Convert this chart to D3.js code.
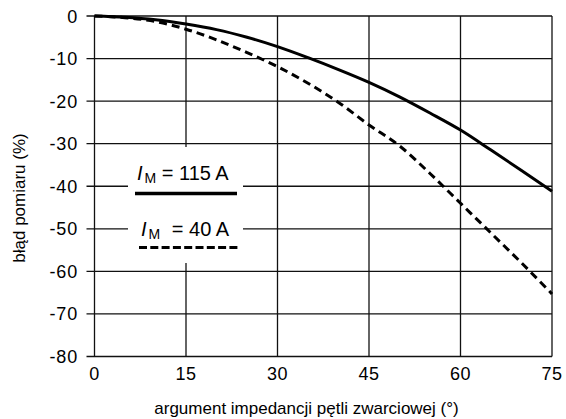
<!DOCTYPE html>
<html>
<head>
<meta charset="utf-8">
<script src="https://cdn.jsdelivr.net/npm/d3@7"></script>
<style>
  body { margin: 0; background: #fff; }
  svg text { font-family: "Liberation Sans", Arial, sans-serif; fill: #000; }
</style>
</head>
<body>
<main></main>
<script>
const angles = [0, 5, 10, 15, 20, 25, 30, 35, 40, 45, 50, 55, 60, 65, 70, 75]
const err115 = [0, -0.3, -0.9, -1.9, -3.2, -5, -7.2, -9.8, -12.6, -15.6, -19, -22.8, -26.8, -31.5, -36.3, -41.2]
const err40 = [0, -0.4, -1.3, -3.1, -5.6, -8.6, -11.9, -15.8, -20.3, -25.6, -30.5, -37, -44, -51, -58, -65.3]
const xTicks = [0, 15, 30, 45, 60, 75]
const yTicks = [0, -10, -20, -30, -40, -50, -60, -70, -80]

const w = 566
const h = 419
const padLeft = 94.5
const padRight = 552
const padTop = 16
const padBottom = 356.5

const xScale = d3.scaleLinear().domain([0, 75]).range([padLeft, padRight])
const yScale = d3.scaleLinear().domain([0, -80]).range([padTop, padBottom])

const svg = d3.select("main").append("svg").attr("width", w).attr("height", h)

// grid
svg.append("g")
  .selectAll("line")
  .data(yTicks)
  .enter()
  .append("line")
  .attr("x1", padLeft - 8)
  .attr("x2", padRight)
  .attr("y1", (d) => yScale(d))
  .attr("y2", (d) => yScale(d))
  .attr("stroke", "#111")
  .attr("stroke-width", 1.3)

svg.append("g")
  .selectAll("line")
  .data(xTicks)
  .enter()
  .append("line")
  .attr("x1", (d) => xScale(d))
  .attr("x2", (d) => xScale(d))
  .attr("y1", padTop)
  .attr("y2", padBottom)
  .attr("stroke", "#111")
  .attr("stroke-width", 1.3)

// legend box (covers grid)
svg.append("rect")
  .attr("x", 128).attr("y", 147)
  .attr("width", 115).attr("height", 116)
  .attr("fill", "#fff")

// tick labels
svg.append("g")
  .selectAll("text")
  .data(yTicks)
  .enter()
  .append("text")
  .attr("x", 78)
  .attr("y", (d) => yScale(d) + 6.5)
  .attr("text-anchor", "end")
  .attr("font-size", 18)
  .attr("letter-spacing", 0.8)
  .text((d) => d)

svg.append("g")
  .selectAll("text")
  .data(xTicks)
  .enter()
  .append("text")
  .attr("x", (d) => xScale(d))
  .attr("y", 380)
  .attr("text-anchor", "middle")
  .attr("font-size", 18)
  .attr("letter-spacing", 0.5)
  .text((d) => d)

// curves
const line = d3.line()
  .x((d, i) => xScale(angles[i]))
  .y((d) => yScale(d))
  .curve(d3.curveMonotoneX)

svg.append("path")
  .attr("d", line(err115))
  .attr("fill", "none")
  .attr("stroke", "#000")
  .attr("stroke-width", 3)

svg.append("path")
  .attr("d", line(err40))
  .attr("fill", "none")
  .attr("stroke", "#000")
  .attr("stroke-width", 3)
  .attr("stroke-dasharray", "8,5")

// legend
const lab1 = svg.append("text").attr("x", 137).attr("y", 180).attr("font-size", 20)
lab1.append("tspan").attr("font-style", "italic").text("I")
lab1.append("tspan").attr("font-size", 14).attr("dy", 3).attr("dx", 2).text("M")
lab1.append("tspan").attr("dy", -3).text(" = 115 A")

svg.append("line")
  .attr("x1", 135).attr("x2", 237)
  .attr("y1", 193.5).attr("y2", 193.5)
  .attr("stroke", "#000").attr("stroke-width", 3.3)

const lab2 = svg.append("text").attr("x", 141).attr("y", 236).attr("font-size", 20)
lab2.append("tspan").attr("font-style", "italic").text("I")
lab2.append("tspan").attr("font-size", 14).attr("dy", 3).attr("dx", 2).text("M")
lab2.append("tspan").attr("dy", -3).attr("dx", 6).text(" = 40 A")

svg.append("line")
  .attr("x1", 139).attr("x2", 238)
  .attr("y1", 247.5).attr("y2", 247.5)
  .attr("stroke", "#000").attr("stroke-width", 3)
  .attr("stroke-dasharray", "8,3.3")

// axis titles
svg.append("text")
  .attr("x", 306.5)
  .attr("y", 414)
  .attr("text-anchor", "middle")
  .attr("font-size", 17)
  .text("argument impedancji pętli zwarciowej (°)")

svg.append("text")
  .attr("transform", "translate(25, 198) rotate(-90)")
  .attr("text-anchor", "middle")
  .attr("font-size", 17)
  .text("błąd pomiaru (%)")
</script>
</body>
</html>
